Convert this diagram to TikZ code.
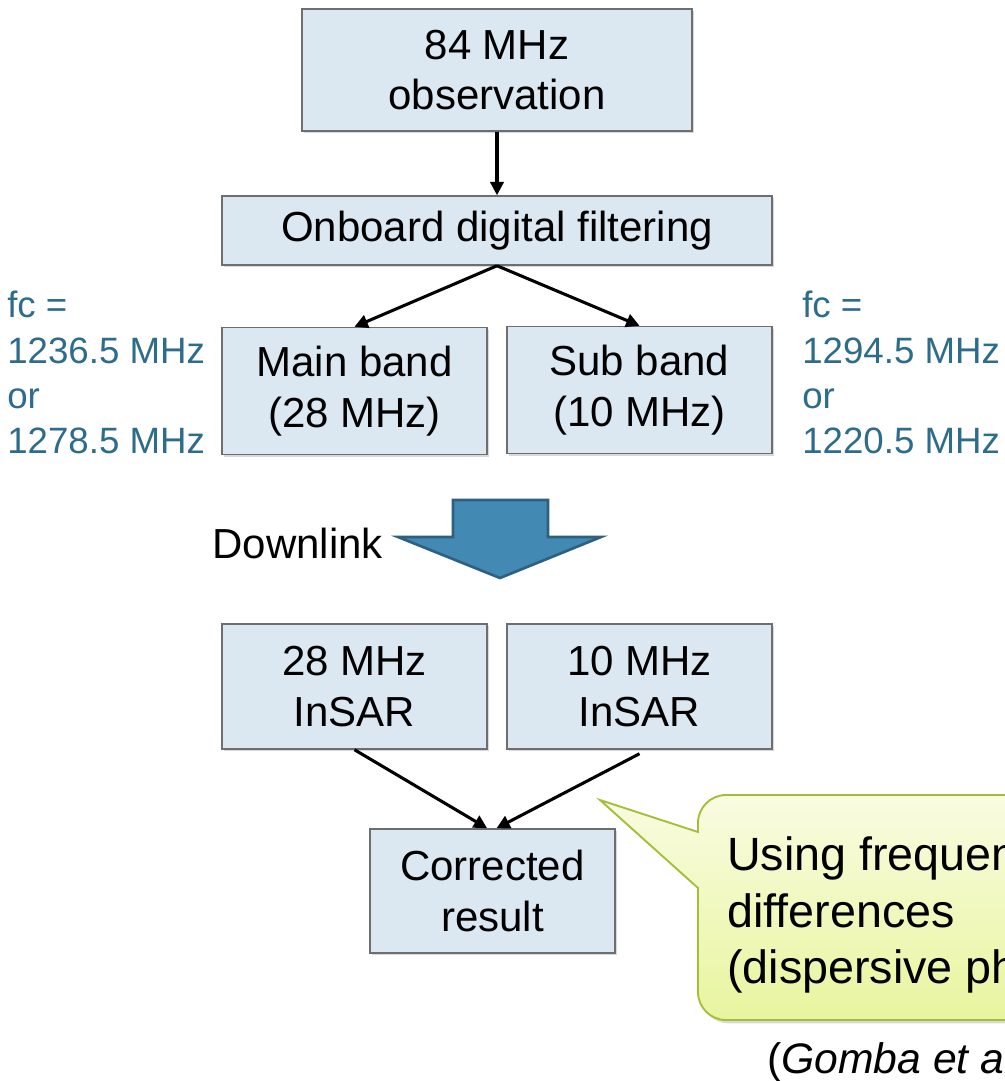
\documentclass[tikz,border=0pt]{standalone}
\usepackage{fontspec}
\setmainfont{Liberation Sans}
\usetikzlibrary{arrows.meta,shadows}
\definecolor{boxfill}{RGB}{219,232,241}
\definecolor{boxline}{RGB}{110,110,110}
\definecolor{fcblue}{RGB}{46,108,140}
\definecolor{arrfill}{RGB}{66,137,180}
\definecolor{arrline}{RGB}{46,96,128}
\definecolor{calltop}{RGB}{249,252,225}
\definecolor{callbot}{RGB}{232,245,158}
\definecolor{callline}{RGB}{165,190,55}
\begin{document}
\begin{tikzpicture}[x=0.75pt,y=-0.75pt,
  box/.style={draw=boxline, line width=1.1pt, fill=boxfill, inner sep=0pt, align=center,
    font=\fontsize{31.5}{38}\selectfont,
    drop shadow={opacity=0.3, shadow xshift=1.5pt, shadow yshift=-1.5pt}},
  conn/.style={-{Triangle[length=10pt,width=10pt]}, line width=2.3pt},
  fclabel/.style={text=fcblue, font=\fontsize{27.5}{34}\selectfont, anchor=base west, inner sep=0pt},
  calltext/.style={font=\fontsize{35}{42}\selectfont, anchor=base west, inner sep=0pt},
]
\useasboundingbox (0,0) rectangle (1004,1081);
\fill[white] (0,0) rectangle (1004,1081);

% boxes
\node[box, minimum width=292.5pt, minimum height=91.5pt] (obs) at (497,70) {84 MHz\\observation};
\node[box, minimum width=412.5pt, minimum height=51.75pt] (filt) at (497,230.5) {Onboard digital filtering};
\node[box, minimum width=198.75pt, minimum height=95.25pt] (main) at (354.5,391) {Main band\\(28 MHz)};
\node[box, minimum width=198.75pt, minimum height=95.25pt] (sub) at (639.5,390) {Sub band\\(10 MHz)};
\node[box, minimum width=198.75pt, minimum height=93.75pt] (ins28) at (354.5,686.5) {28 MHz\\InSAR};
\node[box, minimum width=198.75pt, minimum height=93.75pt] (ins10) at (639.5,686.5) {10 MHz\\InSAR};
\node[box, minimum width=183.75pt, minimum height=93pt] (corr) at (492.5,891) {Corrected\\result};

% connectors
\draw[conn] (obs.south) -- (filt.north);
\draw[conn] (filt.south) -- (main.north);
\draw[conn] (filt.south) -- (sub.north);
\draw[conn] (ins28.south) -- ([xshift=-4pt]corr.north);
\draw[conn] ([yshift=-3pt]ins10.south) -- ([xshift=3pt]corr.north);

% frequency labels
\node[fclabel] (l1) at (7,317) {fc =};
\node[fclabel] (l2) at (7,363) {1236.5 MHz};
\node[fclabel] (l3) at (7,408) {or};
\node[fclabel] (l4) at (7,453) {1278.5 MHz};
\node[fclabel] (r1) at (802,317) {fc =};
\node[fclabel] (r2) at (802,363) {1294.5 MHz};
\node[fclabel] (r3) at (802,408) {or};
\node[fclabel] (r4) at (802,453) {1220.5 MHz};

% downlink arrow
\draw[fill=arrfill, draw=arrline, line width=2pt, line join=miter]
  (453,500) -- (548,500) -- (548,537) -- (601,537) -- (500,578) -- (398,537) -- (453,537) -- cycle;
\node[anchor=base east, inner sep=0pt, font=\fontsize{31.5}{38}\selectfont] (dl) at (383,558) {Downlink};

% callout
\draw[draw=callline, line width=1.4pt, top color=calltop, bottom color=callbot,
      drop shadow={opacity=0.3, shadow xshift=2pt, shadow yshift=-2.5pt}]
  (600,800) -- (698,832) -- (698,823) arc[start angle=180, end angle=270, radius=28]
  -- (1032,795) arc[start angle=270, end angle=360, radius=28]
  -- (1060,992) arc[start angle=0, end angle=90, radius=28]
  -- (726,1020) arc[start angle=90, end angle=180, radius=28]
  -- (698,888) -- cycle;
\node[calltext] (c1) at (727,870) {Using frequency};
\node[calltext] (c2) at (727,927) {differences};
\node[calltext] (c3) at (727,983) {(dispersive phase)};

\node[anchor=base west, inner sep=0pt, font=\fontsize{32}{38}\selectfont] (cite) at (767,1073) {(\textit{Gomba et al.})};
\end{tikzpicture}
\end{document}
